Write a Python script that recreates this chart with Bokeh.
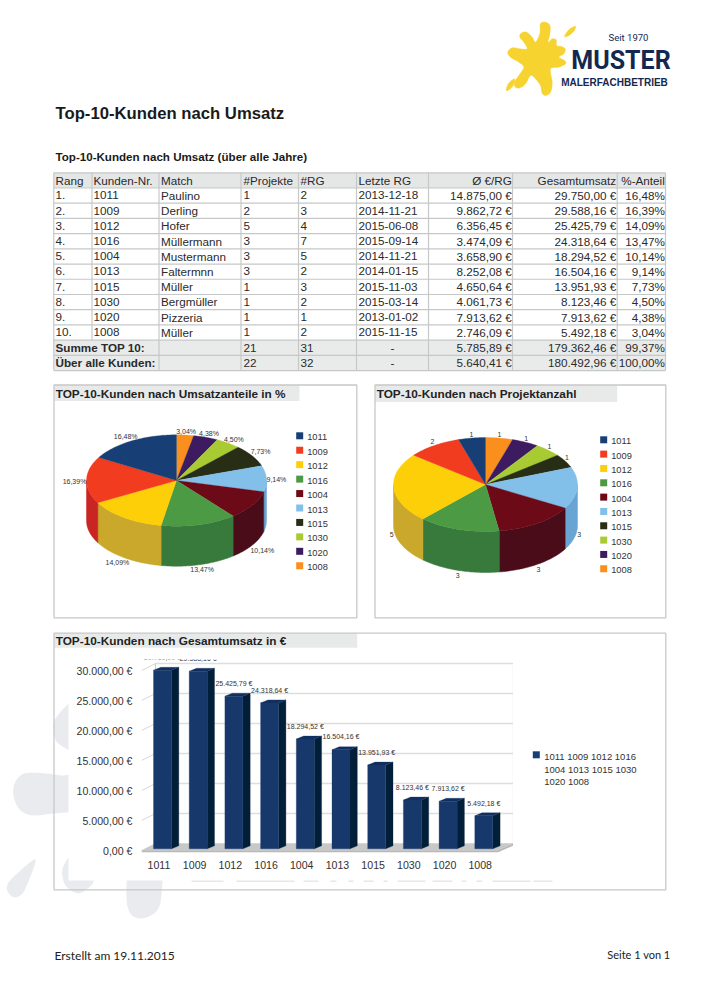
import math
from bokeh.core.properties import value
from bokeh.embed import file_html
from bokeh.layouts import column
from bokeh.models import FixedTicker, Range1d
from bokeh.plotting import figure
from bokeh.resources import INLINE

# ---- data ----
kunden_nr = ["1011", "1009", "1012", "1016", "1004", "1013", "1015", "1030", "1020", "1008"]
match = ["Paulino", "Derling", "Hofer", "Müllermann", "Mustermann", "Faltermnn", "Müller", "Bergmüller", "Pizzeria", "Müller"]
projekte = [1, 2, 5, 3, 3, 3, 1, 1, 1, 1]
rechnungen = [2, 3, 4, 7, 5, 2, 3, 2, 1, 2]
letzte_rg = ["2013-12-18", "2014-11-21", "2015-06-08", "2015-09-14", "2014-11-21", "2014-01-15", "2015-11-03", "2015-03-14", "2013-01-02", "2015-11-15"]
avg_rg = [14875.00, 9862.72, 6356.45, 3474.09, 3658.90, 8252.08, 4650.64, 4061.73, 7913.62, 2746.09]
umsatz = [29750.00, 29588.16, 25425.79, 24318.64, 18294.52, 16504.16, 13951.93, 8123.46, 7913.62, 5492.18]
anteil = [16.48, 16.39, 14.09, 13.47, 10.14, 9.14, 7.73, 4.50, 4.38, 3.04]
summe_top = ["21", "31", "-", 5785.89, 179362.46, 99.37]
summe_alle = ["22", "32", "-", 5640.41, 180492.96, 100.00]
spalten = ["Rang", "Kunden-Nr.", "Match", "#Projekte", "#RG", "Letzte RG", "Ø €/RG", "Gesamtumsatz", "%-Anteil"]
y_ticks = [0, 5000, 10000, 15000, 20000, 25000, 30000]
farben = ["#173f75", "#f23c20", "#fccf08", "#4c9a44", "#6d0a17", "#82c0ea", "#282e16", "#a8cb33", "#3d1b60", "#fb8f1d"]
seiten = ["#122f58", "#c92522", "#c9a82c", "#387a3c", "#4a0c18", "#68a5d4", "#1e2210", "#7e9826", "#2d1448", "#bc6b16"]

FONT = "Liberation Sans"
TXT = "#2a2a2a"


def de(v, nach=2):
    return f"{v:,.{nach}f}".replace(",", "X").replace(".", ",").replace("X", ".")


def eur(v):
    return de(v) + " €"


def smooth(pts, n=6):
    """Closed Catmull-Rom outline through the given decoration points."""
    out = []
    m = len(pts)
    for i in range(m):
        p0, p1, p2, p3 = pts[i - 1], pts[i], pts[(i + 1) % m], pts[(i + 2) % m]
        for k in range(n):
            t = k / n
            out.append(tuple(
                0.5 * (2 * p1[c] + (p2[c] - p0[c]) * t + (2 * p0[c] - 5 * p1[c] + 4 * p2[c] - p3[c]) * t * t
                       + (3 * p1[c] - p0[c] - 3 * p2[c] + p3[c]) * t ** 3)
                for c in (0, 1)))
    return out


p = figure(width=691, height=984, x_range=Range1d(0, 691), y_range=Range1d(984, 0),
           output_backend="svg", toolbar_location=None, min_border=0, frame_align=False,
           x_axis_type=None, y_axis_type=None, outline_line_color=None)
p.grid.visible = False
p.background_fill_color = "white"
p.border_fill_color = "white"


def txt(x, y, s, size="11.7px", bold=False, align="left", color=TXT, font=FONT):
    p.text([x], [y], text=[s], text_font=value(font), text_font_size=size,
           text_font_style="bold" if bold else "normal", text_align=align,
           text_baseline="middle", text_color=color)


# ---- watermark ----
WM = "#e9ebef"
blobs = [
    [(78, 695), (68, 703), (55, 718), (52.7, 730), (56.7, 742), (68, 749.3), (78, 755)],
    [(78, 777), (60, 775), (43, 772.7), (23, 773.3), (14, 783.3), (13.3, 796.7), (20, 810), (33.3, 815), (50, 813.3), (68, 811.7), (78, 811)],
    [(35, 859), (20, 870), (8.3, 881.7), (6.7, 890), (13.3, 896.7), (21.7, 893.3), (28.3, 880)],
    [(75, 850), (68, 857), (61.7, 870), (65, 885), (76.7, 892.7), (86.7, 888.3), (93.3, 880), (90, 865)],
    [(126, 870), (126, 880), (126.5, 903.3), (131.7, 915), (143.3, 917.7), (156.7, 910), (161, 893.3), (158.3, 870)],
]
blobs = [smooth(b) for b in blobs]
p.patches([[q[0] for q in b] for b in blobs], [[q[1] for q in b] for b in blobs],
          fill_color=WM, line_color=None)
p.quad(left=[68], right=[664], top=[648], bottom=[880], fill_color="white", line_color=None)
# faint remains of the watermark lettering below the chart image
ghost_l = [191, 236, 303, 330, 348, 363, 383, 397, 432, 461, 476, 492, 533]
ghost_r = [223, 294, 318, 336, 353, 373, 387, 425, 452, 466, 482, 530, 552]
p.segment(ghost_l, [880.7] * 13, ghost_r, [880.7] * 13, line_color="#e6e8e8", line_width=1.5)

# ---- logo ----
spl = [(150, 40), (165, 35), (178, 45), (178, 70), (172, 95), (180, 90), (185, 85), (197, 88), (198, 105), (212, 108),
       (224, 115), (220, 130), (205, 140), (222, 150), (225, 160), (205, 170), (180, 175), (185, 215), (180, 245),
       (165, 255), (155, 248), (150, 225), (135, 205), (120, 195), (105, 220), (88, 232), (75, 230), (72, 215),
       (85, 195), (100, 170), (85, 155), (60, 140), (52, 125), (65, 112), (88, 115), (110, 115), (100, 95), (88, 80),
       (92, 68), (108, 65), (125, 80), (135, 95), (148, 70)]
drop1 = [(222, 78), (235, 58), (255, 47), (250, 62), (235, 75)]
drop2 = [(47, 238), (55, 218), (72, 205), (68, 225), (55, 238)]
for shape in (smooth(spl), smooth(drop1), smooth(drop2)):
    p.patch([490 + a / 3 for a, b in shape], [10 + b / 3 for a, b in shape], fill_color="#f7d330",
            line_color="#f7d330", line_join="round", line_width=0.5)
NAVY = "#14284f"
txt(628, 37, "Seit 1970", "9.5px", False, "center", NAVY, "Roboto")
txt(620.5, 60, "MUSTER", "25px", True, "center", NAVY, "Roboto")
txt(614, 81.5, "MALERFACHBETRIEB", "10px", True, "center", NAVY)

# ---- headings ----
txt(55, 113, "Top-10-Kunden nach Umsatz", "16.7px", True, color="#1a1a1a")
txt(55, 155.6, "Top-10-Kunden nach Umsatz (über alle Jahre)", "11.6px", True, color="#1a1a1a")

# ---- table ----
cols = [53.3, 91.5, 158.5, 240.5, 298, 356, 428, 512, 616.7, 665]
top = 172.3
rh = 15.21
nrows = 13
ybot = top + nrows * rh
LN = "#c6c8c8"
p.quad(left=[cols[0]], right=[cols[-1]], top=[top], bottom=[top + rh], fill_color="#e5e7e7", line_color=None)
p.quad(left=[cols[0]], right=[cols[-1]], top=[top + 11 * rh], bottom=[ybot], fill_color="#e9ebeb", line_color=None)
for i in range(nrows + 1):
    p.segment([cols[0]], [top + i * rh], [cols[-1]], [top + i * rh], line_color=LN, line_width=1.2)
for j, c in enumerate(cols):
    y1 = ybot if j not in (1, 2) else top + 11 * rh
    p.segment([c], [top], [c], [y1], line_color=LN, line_width=1.2)
p.segment([cols[2]], [top + 11 * rh], [cols[2]], [ybot], line_color=LN, line_width=1.2)


def ymid(i):
    return top + (i + 0.5) * rh - 0.2


links = [55, 93, 160.5, 243, 300, 358]
rechts = [511.3, 615.7, 664.3]
for j, s in enumerate(spalten):
    if j < 6:
        txt(links[j], ymid(0), s)
    else:
        txt(rechts[j - 6], ymid(0), s, align="right")
for i in range(10):
    r = i + 1
    zeile = [f"{i + 1}.", kunden_nr[i], match[i], str(projekte[i]), str(rechnungen[i]), letzte_rg[i]]
    for j, s in enumerate(zeile):
        txt(links[j], ymid(r), s)
    txt(rechts[0], ymid(r), eur(avg_rg[i]), align="right")
    txt(rechts[1], ymid(r), eur(umsatz[i]), align="right")
    txt(rechts[2], ymid(r), de(anteil[i]) + "%", align="right")
for r, name, z in ((11, "Summe TOP 10:", summe_top), (12, "Über alle Kunden:", summe_alle)):
    txt(55, ymid(r), name, bold=True)
    txt(links[3], ymid(r), z[0])
    txt(links[4], ymid(r), z[1])
    txt(392, ymid(r), z[2], align="center")
    txt(rechts[0], ymid(r), eur(z[3]), align="right")
    txt(rechts[1], ymid(r), eur(z[4]), align="right")
    txt(rechts[2], ymid(r), de(z[5]) + "%", align="right")


# ---- panels ----
def panel(l, r, t, b, band_r, band_b, titel):
    p.quad(left=[l], right=[band_r], top=[t], bottom=[band_b], fill_color="#e8eaea", line_color=None)
    p.quad(left=[l], right=[r], top=[t], bottom=[b], fill_color=None, line_color="#c8c8c8", line_width=1.3)
    txt(l + 1.7, (t + band_b) / 2 + 0.6, titel, "11.8px", True, color="#222222")


panel(53.5, 356.3, 384.5, 617.3, 299, 400.5, "TOP-10-Kunden nach Umsatzanteile in %")
panel(374.5, 665.3, 384.5, 617.3, 616.7, 401.5, "TOP-10-Kunden nach Projektanzahl")
panel(53.5, 665.3, 632.7, 889.3, 356.7, 647.3, "TOP-10-Kunden nach Gesamtumsatz in €")


# ---- 3D pies ----
def pie(werte, labels, cx, cy, rx, ry, depth, lx, ly, lstep):
    total = sum(werte)
    rev = list(range(len(werte)))[::-1]
    ang = 0.0
    xs_s, ys_s, cs_s, xs_t, ys_t, cs_t = [], [], [], [], [], []
    lab = []

    def pt(a):
        return cx + rx * math.sin(math.radians(a)), cy - ry * math.cos(math.radians(a))

    for k in rev:
        a0 = ang
        a1 = ang + 360.0 * werte[k] / total
        ang = a1
        n = max(2, int(a1 - a0) + 1)
        arc = [a0 + (a1 - a0) * t / n for t in range(n + 1)]
        pts = [pt(a) for a in arc]
        xs_t.append([cx] + [q[0] for q in pts])
        ys_t.append([cy] + [q[1] for q in pts])
        cs_t.append(farben[k])
        s0, s1 = max(a0, 90.0), min(a1, 270.0)
        if s1 > s0:
            n2 = max(2, int(s1 - s0) + 1)
            arc2 = [s0 + (s1 - s0) * t / n2 for t in range(n2 + 1)]
            sp = [pt(a) for a in arc2]
            xs_s.append([q[0] for q in sp] + [q[0] for q in sp[::-1]])
            ys_s.append([q[1] for q in sp] + [q[1] + depth for q in sp[::-1]])
            cs_s.append(seiten[k])
        m = (a0 + a1) / 2
        mx, my = pt(m)
        c = math.cos(math.radians(m))
        s = math.sin(math.radians(m))
        tx = mx + s * len(labels[k]) * 2.0
        ty = my + (depth + 5 if c < -0.03 else (-4 if c > 0.05 else 1))
        lab.append((tx, ty, labels[k]))
    p.patches(xs_s, ys_s, fill_color=cs_s, line_color=cs_s, line_width=0.5)
    p.patches(xs_t, ys_t, fill_color=cs_t, line_color=cs_t, line_width=0.3)
    for tx, ty, s in lab:
        txt(tx, ty, s, "7px", align="center", color="#333333")
    for i, name in enumerate(kunden_nr):
        yy = ly + i * lstep
        p.quad(left=[lx], right=[lx + 7], top=[yy - 3.5], bottom=[yy + 3.5], fill_color=farben[i], line_color=None)
        txt(lx + 11, yy + 1.5, name, "9.3px", color="#333333")


pie(anteil, [de(v) + "%" for v in anteil], 176, 480, 90, 45.7, 40, 295.7, 435.3, 14.44)
pie(projekte, [str(v) for v in projekte], 485, 484, 92, 47, 41, 599.7, 439.3, 14.33)

# ---- bar legend ----
p.quad(left=[532.3], right=[539.3], top=[750.8], bottom=[757.8], fill_color=farben[0], line_color=None)
for i in range(3):
    txt(543.7, 756.2 + i * 12.5, " ".join(kunden_nr[i * 4:(i + 1) * 4]), "9.5px", color="#333333")

# ---- footer ----
txt(54, 955, "Erstellt am 19.11.2015", "12px", color="#222222", font="Lato")
txt(670, 954, "Seite 1 von 1", "11px", align="right", color="#222222", font="Lato")

# ---- bar chart on its own scales ----
PXX = 35.7           # pixels per category
PXY = 30 / 5000      # pixels per euro


def dx(px):
    return px / PXX


def dy(px):
    return px / PXY


b = figure(width=443, height=231, output_backend="svg", toolbar_location=None, frame_align=False,
           x_range=Range1d(-21 / PXX, 351 / PXX), y_range=Range1d(dy(-2), dy(191)),
           min_border_left=71, min_border_right=0, min_border_top=10, min_border_bottom=28,
           outline_line_color=None)
b.background_fill_color = None
b.border_fill_color = None
b.grid.visible = False
b.margin = (-335, 0, 104, 70)

xl, xr = b.x_range.start, b.x_range.end
back = dx(14)
up = dy(7)
# walls and grid
for t in y_ticks[1:]:
    b.segment([xl + back], [t + up], [xr], [t + up], line_color="#dedede", line_width=1.6)
    b.segment([xl], [t], [xl + back], [t + up], line_color="#d8d8d8", line_width=1)
b.segment([xl + back], [up], [xl + back], [y_ticks[-1] + up], line_color="#d0d0d0", line_width=1.2)
b.segment([xr], [up], [xr], [y_ticks[-1] + up], line_color="#d0d0d0", line_width=1.2)
# floor
fr = xr - dx(16)
b.patch([xl, xl + back, xr, fr], [0, up, up, 0], fill_color="#c8c8c8", line_color="#c8c8c8", line_width=0.5)
b.patch([xl, fr, xr, xr, fr, xl], [0, 0, up, up - dy(2), dy(-2), dy(-2)], fill_color="#b8b8b8", line_color=None)
# bars
xi = list(range(len(umsatz)))
lift = dy(1.7)
hw = dx(9)
sx = dx(7.3)
sy = dy(3)
for i, v in zip(xi, umsatz):
    tp = v + lift
    b.patch([i + hw, i + hw + sx, i + hw + sx, i + hw], [lift, lift + sy, tp + sy, tp], fill_color="#011f38", line_color="#011f38", line_width=0.3)
    b.patch([i - hw, i + hw, i + hw + sx, i - hw + sx], [tp, tp, tp + sy, tp + sy], fill_color="#12305f", line_color="#12305f", line_width=0.3)
b.vbar(x=xi, top=[v + lift for v in umsatz], bottom=lift, width=2 * hw, fill_color="#17386b", line_color="#17386b", line_width=0.3)
b.text(x=xi, y=[v + lift + dy(12.8) for v in umsatz], text=[eur(v) for v in umsatz], text_font=value(FONT),
       text_font_size="7px", text_align="center", text_baseline="middle", text_color="#333333")
# axes
x_tick_pos = [i - 0.1 for i in xi]
b.xaxis.ticker = FixedTicker(ticks=x_tick_pos)
b.xaxis.major_label_overrides = {t: n for t, n in zip(x_tick_pos, kunden_nr)}
b.yaxis.ticker = FixedTicker(ticks=y_ticks)
b.yaxis.major_label_overrides = {t: eur(t) for t in y_ticks}
for ax in (b.xaxis, b.yaxis):
    ax.axis_line_color = None
    ax.major_tick_line_color = None
    ax.minor_tick_line_color = None
    ax.major_tick_out = 0
    ax.major_tick_in = 0
    ax.minor_tick_out = 0
    ax.major_label_text_font = FONT
    ax.major_label_text_font_size = "10.6px"
    ax.major_label_text_color = "#333333"
b.yaxis.major_label_standoff = 9
b.xaxis.major_label_standoff = 8

open("out.html", "w").write(file_html(column(p, b, spacing=0), INLINE))
